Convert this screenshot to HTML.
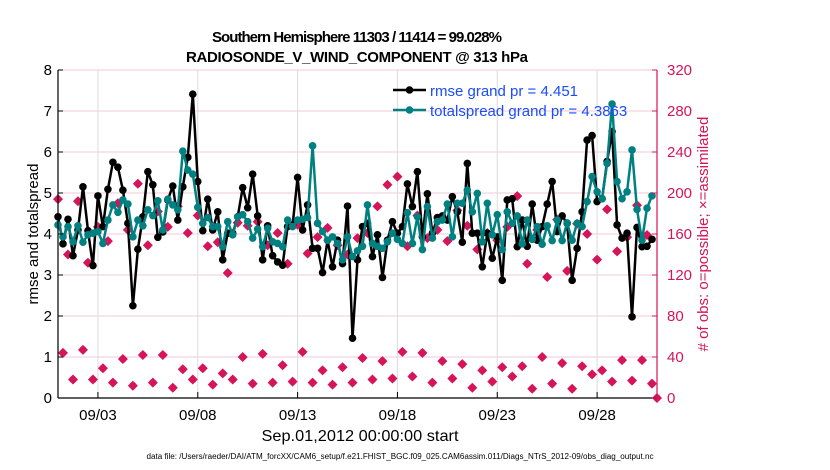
<!DOCTYPE html>
<html><head><meta charset="utf-8"><style>
body{margin:0;background:#fff}
svg{display:block;font-family:"Liberation Sans",sans-serif}
</style></head><body>
<svg id="chart" width="830" height="470" viewBox="0 0 830 470" xmlns="http://www.w3.org/2000/svg">
<g id="grid"></g>
<g id="series"></g>
<g id="axes"></g>
<text x="357" y="42" font-size="15" font-weight="bold" text-anchor="middle" textLength="290">Southern Hemisphere 11303 / 11414 = 99.028%</text>
<text x="357" y="62" font-size="15" font-weight="bold" text-anchor="middle" textLength="342">RADIOSONDE_V_WIND_COMPONENT @ 313 hPa</text>
<text transform="translate(38,234) rotate(-90)" font-size="15" text-anchor="middle">rmse and totalspread</text>
<text transform="translate(708,234) rotate(-90)" font-size="15" text-anchor="middle" fill="#d6145a">#&#160;of obs: o=possible; ×=assimilated</text>
<text x="360" y="441" font-size="16" text-anchor="middle" textLength="197" lengthAdjust="spacingAndGlyphs">Sep.01,2012 00:00:00 start</text>
<text x="400" y="459" font-size="8" text-anchor="middle" textLength="507" lengthAdjust="spacingAndGlyphs">data file: /Users/raeder/DAI/ATM_forcXX/CAM6_setup/f.e21.FHIST_BGC.f09_025.CAM6assim.011/Diags_NTrS_2012-09/obs_diag_output.nc</text>
<g>
<line x1="393" y1="90" x2="426" y2="90" stroke="#000" stroke-width="2.5"/><circle cx="409.5" cy="90" r="3.8" fill="#000"/>
<text x="430" y="96" font-size="15" fill="#1a4cff">rmse grand pr = 4.451</text>
<line x1="393" y1="110" x2="426" y2="110" stroke="#008080" stroke-width="2.5"/><circle cx="409.5" cy="110" r="3.8" fill="#008080"/>
<text x="430" y="116" font-size="15" fill="#1a4cff">totalspread grand pr = 4.3863</text>
</g>
</svg>
<script>
const dateTicks=["09/03","09/08","09/13","09/18","09/23","09/28"];
const dateTickDays=[2,7,12,17,22,27];
const leftTicks=[0,1,2,3,4,5,6,7,8];
const rightTicks=[0,40,80,120,160,200,240,280,320];
const rmse=[4.42,3.76,4.36,3.47,4.10,5.15,4.08,3.23,4.93,4.18,5.09,5.75,5.63,5.07,4.26,2.25,3.63,4.42,5.52,5.20,3.92,4.05,4.83,5.17,4.34,5.15,5.87,7.41,5.28,4.08,4.85,
4.10,4.54,3.37,4.02,4.02,4.42,5.13,4.64,5.46,4.44,3.37,4.20,3.47,3.32,3.24,4.18,4.22,5.38,4.10,4.71,3.65,3.65,3.06,3.85,3.20,3.85,3.28,4.68,1.46,3.37,
4.18,4.26,3.45,3.98,2.94,3.85,4.30,4.02,4.18,5.22,4.67,5.52,3.93,4.98,4.02,4.40,4.44,4.34,4.91,4.54,3.80,5.72,4.02,4.02,3.20,4.02,3.41,3.93,2.87,4.83,
4.86,3.69,4.34,3.70,4.73,3.85,4.18,4.73,5.28,4.06,4.44,4.26,2.87,3.65,4.54,6.29,6.40,4.79,4.86,5.77,6.50,4.22,3.90,4.02,1.98,4.16,3.69,3.70,3.87];
const spread=[4.22,3.93,4.18,3.81,4.20,3.80,3.98,4.02,4.06,3.77,4.34,4.71,4.53,4.83,4.73,3.93,4.34,4.20,4.59,4.45,4.81,4.10,4.85,4.71,4.59,6.02,5.56,5.46,4.65,4.26,4.40,
4.18,4.18,3.69,4.30,3.98,4.42,4.47,4.30,3.90,4.12,3.69,4.14,3.81,3.77,3.69,4.34,4.18,4.34,4.36,4.40,6.15,4.26,4.06,3.85,3.93,3.77,3.37,3.93,3.45,3.59,
3.70,4.71,3.77,3.70,3.65,3.81,4.02,3.87,3.77,4.52,3.77,4.42,3.62,4.67,3.90,4.30,4.34,4.73,3.93,4.75,4.75,5.07,4.54,4.99,3.81,4.75,3.98,4.47,3.62,4.54,
4.26,4.44,3.76,4.34,3.87,4.18,3.75,4.20,3.84,4.34,3.84,4.27,3.85,4.26,4.18,4.79,5.40,5.03,4.86,5.72,7.17,5.28,4.86,5.03,6.05,4.60,3.85,4.63,4.93];
const obsUpper=[194,140,192,132,167,153,190,164,209,149,182,167,187,161,178,148,
152,122,171,168,172,149,161,131,169,141,157,166,149,140,156,
161,187,208,216,148,178,156,164,153,183,168,145,161,154,167,
197,131,164,118,174,124,170,160,135,184,143,157,188,159];
const obsLower=[44,18,47,18,29,15,38,12,42,15,42,10,28,18,29,13,24,18,40,14,43,15,32,16,45,15,27,13,30,15,
39,18,36,19,45,21,44,15,36,19,33,10,27,16,30,21,31,9,40,14,34,9,31,23,27,16,37,17,37,14];
const obsFinal=[0];

const NS="http://www.w3.org/2000/svg";
const X0=58,X1=657,Y0=398,Y1=70,DAYS=30;
const xs=d=>X0+(d/DAYS)*(X1-X0);
const yl=v=>Y0-(v/8)*(Y0-Y1);
const yr=v=>Y0-(v/320)*(Y0-Y1);
function mk(tag,attrs,parent){const e=document.createElementNS(NS,tag);for(const k in attrs)e.setAttribute(k,attrs[k]);parent.appendChild(e);return e;}
const grid=document.getElementById('grid'),ser=document.getElementById('series'),axes=document.getElementById('axes');
const MAG="#d6145a";
leftTicks.forEach(v=>{if(v>0){const l=mk('line',{x1:X0,x2:X1,y1:yl(v),y2:yl(v),stroke:"#f2cadb","stroke-width":1},grid);

}});
dateTickDays.forEach((d,i)=>{const l=mk('line',{x1:xs(d),x2:xs(d),y1:Y1,y2:Y0,stroke:"#dcdcdc","stroke-width":1},grid);


mk('line',{x1:xs(d),x2:xs(d),y1:Y0,y2:Y0-6,stroke:"#000","stroke-width":1},axes);
const t=mk('text',{x:xs(d),y:420,"font-size":15,"text-anchor":"middle"},axes);t.textContent=dateTicks[i];

});
// obs markers
const obsAll=[];
for(let j=0;j<60;j++){obsAll.push(obsUpper[j]);obsAll.push(obsLower[j]);}
obsFinal.forEach(v=>obsAll.push(v));
obsAll.forEach((v,i)=>{const cx=xs(i*0.25),cy=yr(v);const g=mk('g',{},ser);


mk('path',{d:`M${cx} ${cy-5}L${cx+5} ${cy}L${cx} ${cy+5}L${cx-5} ${cy}Z`,fill:MAG},g);
mk('circle',{cx:cx,cy:cy,r:3.6,fill:MAG},g);});
function series(arr,col,name){let d="";arr.forEach((v,i)=>{d+=(i?"L":"M")+xs(i*0.25).toFixed(1)+" "+yl(v).toFixed(1);});
const p=mk('path',{d:d,fill:"none",stroke:col,"stroke-width":2.5,"stroke-linejoin":"round"},ser);


arr.forEach((v,i)=>{const c=mk('circle',{cx:xs(i*0.25),cy:yl(v),r:3.8,fill:col},ser);

});}
series(rmse,"#000","rmse");
series(spread,"#008080","totalspread");
// axes
mk('line',{x1:X0,x2:X0,y1:Y1,y2:Y0,stroke:"#000","stroke-width":1.2},axes);
mk('line',{x1:X0,x2:X1,y1:Y0,y2:Y0,stroke:"#000","stroke-width":1.2},axes);
mk('line',{x1:X1,x2:X1,y1:Y1,y2:Y0,stroke:MAG,"stroke-width":1.2},axes);
leftTicks.forEach(v=>{mk('line',{x1:X0,x2:X0+5,y1:yl(v),y2:yl(v),stroke:"#000"},axes);
const t=mk('text',{x:52,y:yl(v)+5,"font-size":15,"text-anchor":"end"},axes);t.textContent=v;

});
rightTicks.forEach(v=>{mk('line',{x1:X1-5,x2:X1,y1:yr(v),y2:yr(v),stroke:MAG},axes);
const t=mk('text',{x:667,y:yr(v)+5,"font-size":15,fill:MAG},axes);t.textContent=v;

});
</script>
</body></html>
